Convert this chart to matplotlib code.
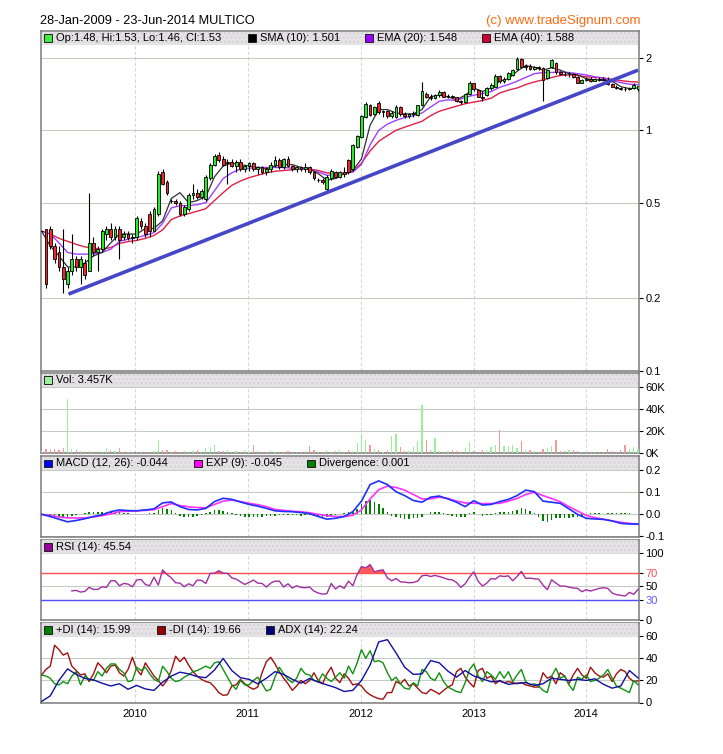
"""MULTICO weekly-style chart (price / volume / MACD / RSI / DMI), tradeSignum layout."""
import numpy as np
import pandas as pd
import matplotlib
matplotlib.use("Agg")
import matplotlib.pyplot as plt
import matplotlib.dates as mdates
from matplotlib.patches import Rectangle

W, H = 723, 754
plt.rcParams["font.family"] = ["Liberation Sans", "DejaVu Sans"]

TITLE = "28-Jan-2009 - 23-Jun-2014 MULTICO"
COPYRIGHT = "(c) www.tradeSignum.com"

# candles, one every two weeks from 2009-03-04
OPEN = [
    0.38, 0.39, 0.39, 0.33, 0.31, 0.27, 0.23, 0.26, 0.29, 0.27,
    0.28, 0.26, 0.34, 0.31, 0.32, 0.37, 0.39, 0.36, 0.39, 0.36,
    0.37, 0.355, 0.36, 0.42, 0.40, 0.45, 0.38, 0.45, 0.67, 0.61,
    0.51, 0.51, 0.50, 0.45, 0.47, 0.54, 0.55, 0.53, 0.52, 0.63,
    0.72, 0.79, 0.76, 0.73, 0.74, 0.71, 0.74, 0.69, 0.71, 0.73,
    0.69, 0.70, 0.67, 0.69, 0.72, 0.75, 0.70, 0.76, 0.71, 0.69,
    0.70, 0.69, 0.70, 0.67, 0.62, 0.62, 0.57, 0.63, 0.67, 0.64,
    0.67, 0.75, 0.69, 0.85, 0.94, 1.14, 1.27, 1.17, 1.30, 1.19,
    1.20, 1.15, 1.14, 1.25, 1.17, 1.15, 1.17, 1.16, 1.27, 1.42,
    1.38, 1.36, 1.40, 1.45, 1.38, 1.39, 1.37, 1.32, 1.31, 1.41,
    1.57, 1.47, 1.38, 1.40, 1.50, 1.52, 1.68, 1.60, 1.63, 1.70,
    1.80, 1.98, 1.84, 1.86, 1.80, 1.84, 1.81, 1.65, 1.83, 1.90,
    1.74, 1.72, 1.71, 1.72, 1.66, 1.58, 1.62, 1.64, 1.61, 1.63,
    1.62, 1.62, 1.56, 1.52, 1.50, 1.49, 1.48, 1.50, 1.48,
]
HIGH = [
    0.38, 0.39, 0.40, 0.34, 0.33, 0.39, 0.27, 0.37, 0.30, 0.30,
    0.29, 0.55, 0.36, 0.33, 0.39, 0.40, 0.41, 0.40, 0.40, 0.38,
    0.38, 0.37, 0.44, 0.43, 0.41, 0.46, 0.48, 0.68, 0.69, 0.62,
    0.52, 0.52, 0.51, 0.49, 0.55, 0.60, 0.57, 0.57, 0.65, 0.73,
    0.80, 0.81, 0.78, 0.76, 0.76, 0.75, 0.76, 0.72, 0.74, 0.74,
    0.71, 0.71, 0.70, 0.74, 0.78, 0.77, 0.77, 0.78, 0.72, 0.71,
    0.71, 0.73, 0.71, 0.68, 0.63, 0.63, 0.65, 0.69, 0.68, 0.68,
    0.70, 0.76, 0.88, 0.96, 1.16, 1.31, 1.29, 1.26, 1.33, 1.22,
    1.22, 1.20, 1.27, 1.26, 1.19, 1.18, 1.20, 1.28, 1.59, 1.44,
    1.41, 1.42, 1.47, 1.46, 1.41, 1.40, 1.38, 1.34, 1.42, 1.60,
    1.58, 1.48, 1.46, 1.52, 1.58, 1.71, 1.70, 1.66, 1.74, 1.80,
    2.02, 2.00, 1.89, 1.88, 1.86, 1.86, 1.83, 1.79, 1.98, 1.92,
    1.76, 1.75, 1.74, 1.73, 1.68, 1.64, 1.66, 1.66, 1.65, 1.67,
    1.66, 1.66, 1.58, 1.54, 1.52, 1.51, 1.52, 1.57, 1.53,
]
LOW = [
    0.38, 0.22, 0.32, 0.28, 0.26, 0.21, 0.22, 0.25, 0.26, 0.23,
    0.24, 0.26, 0.30, 0.26, 0.31, 0.35, 0.35, 0.35, 0.29, 0.35,
    0.35, 0.34, 0.35, 0.39, 0.36, 0.36, 0.38, 0.44, 0.59, 0.54,
    0.50, 0.49, 0.44, 0.44, 0.46, 0.52, 0.52, 0.52, 0.51, 0.62,
    0.71, 0.74, 0.71, 0.60, 0.70, 0.67, 0.68, 0.67, 0.68, 0.68,
    0.66, 0.66, 0.65, 0.67, 0.70, 0.69, 0.69, 0.70, 0.68, 0.67,
    0.68, 0.67, 0.66, 0.62, 0.61, 0.60, 0.56, 0.62, 0.63, 0.63,
    0.64, 0.66, 0.68, 0.84, 0.93, 1.12, 1.15, 1.16, 1.17, 1.14,
    1.13, 1.13, 1.13, 1.15, 1.12, 1.13, 1.14, 1.15, 1.26, 1.36,
    1.34, 1.35, 1.38, 1.37, 1.36, 1.36, 1.31, 1.29, 1.30, 1.40,
    1.46, 1.37, 1.33, 1.39, 1.47, 1.51, 1.58, 1.57, 1.62, 1.68,
    1.79, 1.82, 1.79, 1.78, 1.78, 1.79, 1.33, 1.64, 1.82, 1.72,
    1.70, 1.69, 1.67, 1.65, 1.57, 1.57, 1.60, 1.59, 1.60, 1.61,
    1.60, 1.55, 1.51, 1.48, 1.47, 1.46, 1.47, 1.49, 1.46,
]
CLOSE = [
    0.38, 0.23, 0.33, 0.29, 0.27, 0.24, 0.26, 0.29, 0.27, 0.29,
    0.25, 0.34, 0.31, 0.32, 0.38, 0.39, 0.36, 0.39, 0.35, 0.37,
    0.355, 0.36, 0.43, 0.40, 0.37, 0.38, 0.47, 0.66, 0.60, 0.55,
    0.51, 0.50, 0.45, 0.48, 0.54, 0.55, 0.53, 0.56, 0.64, 0.72,
    0.78, 0.75, 0.72, 0.74, 0.71, 0.74, 0.69, 0.71, 0.73, 0.69,
    0.70, 0.67, 0.69, 0.72, 0.75, 0.70, 0.76, 0.71, 0.69, 0.70,
    0.69, 0.70, 0.67, 0.63, 0.62, 0.61, 0.64, 0.68, 0.64, 0.67,
    0.66, 0.67, 0.87, 0.95, 1.15, 1.29, 1.16, 1.25, 1.19, 1.20,
    1.15, 1.18, 1.25, 1.17, 1.15, 1.17, 1.18, 1.27, 1.46, 1.38,
    1.36, 1.40, 1.45, 1.38, 1.39, 1.37, 1.32, 1.31, 1.41, 1.58,
    1.48, 1.38, 1.36, 1.50, 1.55, 1.69, 1.60, 1.64, 1.73, 1.78,
    1.98, 1.84, 1.86, 1.80, 1.84, 1.81, 1.62, 1.78, 1.96, 1.74,
    1.72, 1.71, 1.72, 1.67, 1.58, 1.62, 1.64, 1.61, 1.63, 1.62,
    1.64, 1.56, 1.52, 1.50, 1.49, 1.48, 1.50, 1.55, 1.53,
]
VOLUME_K = [
    2.0, 3.4, 2.5, 3.7, 3.0, 4.4, 49.5, 3.5, 2.5, 1.5,
    1.0, 1.5, 1.0, 1.5, 1.0, 4.5, 2.5, 1.5, 4.5, 1.0,
    1.0, 0.8, 1.0, 0.8, 1.0, 0.8, 1.5, 12.0, 2.5, 3.0,
    1.0, 1.5, 1.0, 1.5, 1.0, 1.5, 3.0, 1.0, 4.5, 5.0,
    7.4, 2.0, 1.5, 2.5, 1.0, 1.5, 1.0, 2.5, 1.0, 7.4,
    1.5, 1.0, 1.0, 1.5, 1.0, 0.8, 1.0, 1.5, 1.0, 0.8,
    1.0, 1.5, 6.0, 2.5, 1.0, 1.0, 2.5, 1.0, 1.5, 2.5,
    1.0, 3.0, 1.5, 9.0, 17.5, 12.0, 7.4, 4.0, 2.5, 1.0,
    2.5, 15.7, 17.5, 5.0, 1.5, 1.5, 5.0, 11.0, 44.0, 12.0,
    2.5, 13.5, 1.5, 1.0, 1.5, 3.0, 1.5, 1.0, 4.5, 10.4,
    1.5, 1.0, 2.5, 3.0, 5.0, 7.4, 20.6, 6.5, 6.5, 7.4,
    4.5, 11.0, 2.5, 3.0, 1.5, 1.0, 4.0, 4.5, 6.5, 12.0,
    2.0, 1.5, 3.0, 2.5, 1.5, 1.0, 0.8, 1.0, 1.2, 0.8,
    1.0, 4.0, 1.5, 1.0, 2.5, 7.4, 4.0, 5.0, 3.457,
]
DIVERGENCE = [
    0.0, -0.005, -0.008, -0.012, -0.014, -0.015, -0.012, -0.008, -0.004, 0.003,
    0.006, 0.01, 0.012, 0.011, 0.01, 0.012, 0.01, 0.008, 0.01, 0.006,
    0.004, 0.002, 0.001, 0.003, 0.002, 0.004, 0.008, 0.02, 0.027, 0.025,
    0.018, 0.005, -0.008, -0.01, -0.012, -0.01, -0.006, -0.002, 0.004, 0.012,
    0.018, 0.02, 0.016, 0.01, 0.004, -0.003, -0.008, -0.012, -0.013, -0.013,
    -0.012, -0.01, -0.009, -0.008, -0.006, -0.004, -0.003, -0.002, -0.004, -0.005,
    -0.006, -0.005, -0.004, -0.006, -0.009, -0.01, -0.01, -0.008, -0.004, 0.002,
    0.006, 0.009, 0.012, 0.025, 0.045, 0.06, 0.065, 0.058, 0.045, 0.03,
    0.01, -0.008, -0.014, -0.018, -0.02, -0.02, -0.018, -0.016, -0.012, 0.002,
    0.01, 0.012, 0.01, 0.006, -0.004, -0.008, -0.01, -0.012, -0.01, 0.004,
    0.012, 0.002, -0.006, -0.005, -0.002, 0.004, 0.01, 0.012, 0.012, 0.014,
    0.018, 0.028, 0.022, 0.014, 0.005, -0.012, -0.03, -0.034, -0.025, -0.018,
    -0.016, -0.015, -0.016, -0.014, -0.012, -0.006, 0.003, 0.005, 0.005, 0.004,
    0.002, 0.004, 0.005, 0.005, 0.005, 0.004, 0.004, 0.003, 0.001,
]
RSI = [
    None, None, None, None, None, None, None, 43.3, 44, 41.5,
    42.5, 48.5, 45.5, 45.5, 49.5, 48.5, 58.5, 58.5, 51, 54.5,
    53.5, 49.5, 59.6, 60.5, 53, 51, 64, 52, 75, 68,
    63, 55.5, 55, 49.5, 54, 51, 59.6, 59, 54.5, 69.7,
    70, 73.7, 70, 69.7, 63, 61, 57, 53, 56, 59.6,
    55, 54.5, 49, 55, 58, 58, 49, 54, 47.5, 51,
    48.5, 48, 49, 43, 40, 38.3, 39, 54.5, 46, 51,
    47, 58, 51, 68, 80, 78, 83, 72, 74, 75,
    63, 58.5, 62, 57, 56.5, 55.5, 56, 58, 66, 67,
    65, 66.6, 65, 63, 60.6, 60, 56, 48.5, 54, 64,
    72, 58, 50.5, 55, 62, 61, 66, 65, 66, 58.5,
    65, 72.7, 62, 62.5, 61.5, 61, 52, 45, 60, 55,
    50.5, 50.5, 49, 47.5, 47, 42, 45, 43, 45, 47,
    48, 47, 40, 37.5, 36.5, 35.5, 41, 38, 45.54,
]
PLUS_DI = [
    25, 24, 22, 17, 16, 19, 17, 24, 28, 16,
    24, 21, 20, 28, 24, 31, 35, 35, 30, 27,
    19, 20, 32, 29, 32, 26, 21, 19, 33, 28,
    22, 19, 20, 23, 25, 28, 29, 31, 33, 31,
    36, 37, 30, 23, 16, 12, 20, 16, 16, 20,
    23, 17, 10.5, 12, 23, 32, 26, 21, 18, 22,
    31, 26, 25, 20, 19, 26, 22, 19, 23, 27,
    22, 33, 26, 36, 48, 40, 47, 37, 38, 36,
    27, 20, 23, 17, 13, 12, 18, 15, 30, 28,
    22, 20, 27, 19, 14, 12, 10, 9, 18, 30,
    35, 24, 19, 28, 25, 21, 28, 22, 28, 19,
    25, 30, 19, 16, 17, 15, 11, 9, 24, 31,
    22, 24, 16, 11, 23, 21, 25, 19, 20, 22,
    25, 30, 22, 15, 13, 11, 9, 20, 15.99,
]
MINUS_DI = [
    25, 30, 33, 52, 48, 43, 45, 33, 29, 25,
    26, 19, 26, 36, 32, 27, 33, 34, 27, 24,
    30, 41, 30, 25, 36, 30, 24, 20, 15, 20,
    29, 42, 37, 41, 34, 28, 24, 21, 19, 18,
    14, 9, 6.5, 7, 15, 16, 21, 17, 14, 12,
    14, 27, 37, 41, 35, 28, 22, 17, 11, 15,
    20, 17, 20, 27, 20, 17, 26, 32, 22, 18,
    26, 22, 16, 17, 15, 10, 7, 5, 3.5, 3,
    9, 9, 19, 17, 21, 15, 17, 13, 9, 8,
    12, 10, 7.6, 11, 14, 16, 28, 31, 23, 18,
    14, 29, 31, 22, 24, 17, 20, 18, 19, 18,
    17, 18, 16, 15, 14, 14, 27, 22, 24, 17,
    27, 24, 17, 25, 31, 25, 22, 32, 27, 24,
    23, 26, 19, 26, 30, 28, 22, 19, 19.66,
]

# smoother series, one point every four weeks from 2009-03-04
SMA10 = [
    0.38, 0.33, 0.30, 0.27, 0.27, 0.28, 0.30, 0.31, 0.34, 0.37,
    0.37, 0.37, 0.39, 0.39, 0.42, 0.52, 0.55, 0.50, 0.51, 0.53,
    0.64, 0.71, 0.73, 0.72, 0.71, 0.70, 0.69, 0.71, 0.72, 0.72,
    0.70, 0.69, 0.66, 0.62, 0.63, 0.66, 0.68, 0.76, 1.05, 1.22,
    1.22, 1.18, 1.17, 1.17, 1.22, 1.38, 1.40, 1.38, 1.34, 1.40,
    1.50, 1.45, 1.50, 1.60, 1.64, 1.76, 1.86, 1.83, 1.78, 1.82,
    1.78, 1.72, 1.70, 1.64, 1.62, 1.62, 1.60, 1.52, 1.49, 1.501,
]
EMA20 = [
    0.38, 0.37, 0.34, 0.31, 0.305, 0.305, 0.306, 0.31, 0.32, 0.345,
    0.352, 0.358, 0.365, 0.375, 0.41, 0.475, 0.485, 0.486, 0.49, 0.50,
    0.56, 0.63, 0.665, 0.69, 0.695, 0.70, 0.70, 0.70, 0.70, 0.695,
    0.69, 0.69, 0.67, 0.65, 0.65, 0.66, 0.67, 0.72, 0.87, 1.0,
    1.06, 1.10, 1.13, 1.15, 1.18, 1.25, 1.32, 1.34, 1.33, 1.37,
    1.40, 1.42, 1.45, 1.51, 1.55, 1.60, 1.66, 1.72, 1.74, 1.74,
    1.75, 1.74, 1.72, 1.70, 1.67, 1.65, 1.61, 1.58, 1.555, 1.548,
]
EMA40 = [
    0.38, 0.37, 0.355, 0.345, 0.335, 0.327, 0.323, 0.32, 0.325, 0.338,
    0.344, 0.348, 0.355, 0.365, 0.385, 0.425, 0.44, 0.45, 0.46, 0.472,
    0.51, 0.55, 0.59, 0.615, 0.635, 0.65, 0.665, 0.675, 0.68, 0.685,
    0.69, 0.69, 0.68, 0.665, 0.66, 0.665, 0.672, 0.73, 0.82, 0.90,
    0.95, 1.00, 1.03, 1.06, 1.09, 1.15, 1.20, 1.23, 1.26, 1.29,
    1.31, 1.33, 1.36, 1.43, 1.47, 1.50, 1.55, 1.59, 1.62, 1.66,
    1.69, 1.70, 1.69, 1.67, 1.66, 1.65, 1.63, 1.61, 1.595, 1.588,
]
MACD = [
    0.0, -0.01, -0.022, -0.034, -0.028, -0.02, -0.01, -0.002, 0.012, 0.02,
    0.017, 0.016, 0.02, 0.025, 0.052, 0.056, 0.035, 0.022, 0.02, 0.027,
    0.058, 0.073, 0.068, 0.056, 0.045, 0.037, 0.027, 0.016, 0.013, 0.012,
    0.008, 0.003, -0.01, -0.022, -0.018, -0.01, 0.012, 0.06, 0.135, 0.152,
    0.135, 0.103, 0.085, 0.063, 0.055, 0.078, 0.083, 0.07, 0.055, 0.035,
    0.062, 0.042, 0.045, 0.058, 0.068, 0.085, 0.11, 0.103, 0.06, 0.055,
    0.05, 0.025, 0.0, -0.018, -0.021, -0.023, -0.03, -0.041, -0.044, -0.044,
]
SIGNAL = [
    0.0, -0.005, -0.012, -0.016, -0.017, -0.016, -0.012, -0.006, 0.002, 0.012,
    0.014, 0.016, 0.018, 0.021, 0.035, 0.049, 0.04, 0.034, 0.031, 0.03,
    0.045, 0.06, 0.065, 0.058, 0.05, 0.044, 0.035, 0.022, 0.018, 0.014,
    0.012, 0.007, 0.0, -0.006, -0.01, -0.01, -0.004, 0.02, 0.07, 0.112,
    0.128, 0.122, 0.11, 0.09, 0.07, 0.07, 0.078, 0.072, 0.06, 0.052,
    0.05, 0.049, 0.049, 0.05, 0.06, 0.072, 0.09, 0.10, 0.085, 0.072,
    0.057, 0.035, 0.015, -0.005, -0.015, -0.022, -0.03, -0.036, -0.041, -0.045,
]
ADX = [
    1, 6, 20, 30.5, 25.5, 21.8, 20.5, 17.5, 15, 17,
    12, 15.5, 12.3, 11, 18.5, 24, 27.5, 26, 23.5, 22.5,
    29.5, 40, 29, 22.5, 21, 17, 22, 28, 25.5, 21,
    17.5, 21.8, 18.5, 16, 13.5, 10, 11, 20, 34, 55,
    57, 45, 32, 25.5, 26, 38, 36, 28.5, 23, 29,
    24, 21.5, 18.8, 19.5, 16.5, 17.5, 18, 15.5, 17, 22,
    21, 20, 21, 20, 21.5, 16.5, 13, 15, 29, 22.24,
]

TREND_DATES = ["2009-05-30", "2014-06-18"]
TREND_PRICE = [0.208, 1.78]

BAR_DATES = pd.date_range("2009-03-04", periods=len(CLOSE), freq="14D")
LINE_DATES = pd.date_range("2009-03-04", periods=len(EMA20), freq="28D")
XLIM = (pd.Timestamp("2009-03-01"), pd.Timestamp("2014-06-22"))
LEFT_PX, RIGHT_PX = 40.7, 639.3


def fx(px):
    return px / W


def fy(py):
    return 1 - py / H


def panel(fig, top, bottom):
    ax = fig.add_axes([fx(LEFT_PX), fy(bottom), (RIGHT_PX - LEFT_PX) / W, (bottom - top) / H])
    ax.set_xlim(*XLIM)
    ax.yaxis.tick_right()
    ax.tick_params(axis="y", direction="out", length=3, width=0.8, labelsize=8, pad=1.5)
    ax.tick_params(axis="x", length=0, labelbottom=False)
    for s in ax.spines.values():
        s.set_color("#7a7a7a")
        s.set_linewidth(1.1)
    ax.xaxis.set_major_locator(mdates.YearLocator())
    ax.grid(axis="x", color="#d8d6d8", lw=0.8, ls=(0, (3, 2)))
    ax.grid(axis="y", color="#c4ccc4", lw=0.8)
    ax.set_axisbelow(True)
    return ax


def header(fig, top, items):
    fig.add_artist(Rectangle((fx(LEFT_PX + 0.8), fy(top + 14)), (RIGHT_PX - LEFT_PX - 1.6) / W, 13.3 / H,
                             transform=fig.transFigure, facecolor="#e5e3e5", edgecolor="#d4d2d4",
                             hatch="....", lw=0, zorder=2))
    for x, color, label in items:
        fig.add_artist(Rectangle((fx(x), fy(top + 11)), 7.5 / W, 7.5 / H, transform=fig.transFigure,
                                 facecolor=color, edgecolor="#202020", lw=0.7, zorder=3))
        fig.text(fx(x + 12), fy(top + 7.3), label, fontsize=8, va="center", ha="left", zorder=4)


def main():
    fig = plt.figure(figsize=(W / 100, H / 100), dpi=100)
    fig.text(fx(40), fy(21), TITLE, fontsize=9.2, va="center", ha="left")
    fig.text(fx(640), fy(21), COPYRIGHT, fontsize=9.5, va="center", ha="right", color="#ff6a10")

    o, h, l, c = (np.array(a) for a in (OPEN, HIGH, LOW, CLOSE))
    up = c >= o

    # price
    ax = panel(fig, 31, 370.5)
    ax.set_yscale("log")
    ax.set_ylim(0.1, 2.59)
    ax.set_yticks([0.1, 0.2, 0.5, 1, 2], labels=["0.1", "0.2", "0.5", "1", "2"])
    ax.yaxis.set_minor_locator(matplotlib.ticker.NullLocator())
    ax.plot(LINE_DATES, EMA40, color="#e0204a", lw=1.0, zorder=2)
    ax.plot(LINE_DATES, EMA20, color="#a040ff", lw=1.0, zorder=2)
    ax.plot(LINE_DATES, SMA10, color="#303030", lw=0.9, zorder=2)
    ax.vlines(BAR_DATES, l, h, color="black", lw=0.8, zorder=3)
    ax.bar(BAR_DATES, np.abs(c - o), bottom=np.minimum(o, c), width=9,
           color=np.where(up, "#2ae82a", "#f02828"), edgecolor="black", lw=0.6, zorder=4)
    ax.plot(pd.to_datetime(TREND_DATES), TREND_PRICE, color="#4646c8", lw=2.6,
            solid_capstyle="butt", zorder=5)
    header(fig, 31, [(44, "#40ee40", f"Op:{OPEN[-1]:.2f}, Hi:{HIGH[-1]:.2f}, Lo:{LOW[-1]:.2f}, Cl:{CLOSE[-1]:.2f}"),
                     (248, "#000000", f"SMA (10): {SMA10[-1]:.3f}"),
                     (365, "#9900ff", f"EMA (20): {EMA20[-1]:.3f}"),
                     (482, "#cc0033", f"EMA (40): {EMA40[-1]:.3f}")])

    # volume
    ax = panel(fig, 373, 453)
    ax.set_ylim(0, 72.7)
    ax.set_yticks([0, 20, 40, 60], labels=["0K", "20K", "40K", "60K"])
    ax.bar(BAR_DATES, VOLUME_K, width=4, color=np.where(up, "#98f098", "#f49898"), zorder=3)
    header(fig, 373, [(44, "#a0f0a0", f"Vol: {VOLUME_K[-1]:.3f}K")])

    # MACD
    ax = panel(fig, 456, 537)
    ax.set_ylim(-0.103, 0.265)
    ax.set_yticks([-0.1, 0.0, 0.1, 0.2], labels=["-0.1", "0.0", "0.1", "0.2"])
    ax.bar(BAR_DATES, DIVERGENCE, width=5, color="#008000", zorder=3)
    ax.plot(LINE_DATES, SIGNAL, color="#ff30ff", lw=1.2, zorder=4)
    ax.plot(LINE_DATES, MACD, color="#2030ff", lw=1.2, zorder=4)
    header(fig, 456, [(44, "#0000ff", f"MACD (12, 26): {MACD[-1]:.3f}"),
                      (194, "#ff00ff", f"EXP (9): {SIGNAL[-1]:.3f}"),
                      (307, "#008000", f"Divergence: {DIVERGENCE[-1]:.3f}")])

    # RSI
    rsi = np.array(RSI, dtype=float)
    ax = panel(fig, 539.5, 619.5)
    ax.set_ylim(0, 120.9)
    ax.set_yticks([0, 30, 50, 70, 100], labels=["0", "30", "50", "70", "100"])
    ax.get_yticklabels()[1].set_color("#6060ff")
    ax.get_yticklabels()[3].set_color("#ff5050")
    ax.fill_between(BAR_DATES, 70, rsi, where=rsi >= 70, interpolate=True, color="#ff5a5a", lw=0, zorder=2)
    ax.axhline(70, color="#ff5050", lw=1.0, zorder=3)
    ax.axhline(30, color="#5050ff", lw=1.0, zorder=3)
    ax.plot(BAR_DATES, rsi, color="#a030a0", lw=1.0, zorder=4)
    header(fig, 539.5, [(44, "#990099", f"RSI (14): {RSI[-1]:.2f}")])

    # DMI
    ax = panel(fig, 622.7, 702.5)
    ax.set_ylim(0, 72.4)
    ax.set_yticks([0, 20, 40, 60], labels=["0", "20", "40", "60"])
    ax.plot(BAR_DATES, MINUS_DI, color="#a01010", lw=1.0, zorder=3)
    ax.plot(BAR_DATES, PLUS_DI, color="#109010", lw=1.0, zorder=3)
    ax.plot(LINE_DATES, ADX, color="#1010a0", lw=1.0, zorder=3)
    ax.xaxis.set_major_formatter(mdates.DateFormatter("%Y"))
    ax.tick_params(axis="x", labelbottom=True, labelsize=8, pad=5)
    header(fig, 622.7, [(44, "#008000", f"+DI (14): {PLUS_DI[-1]:.2f}"),
                        (157, "#990000", f"-DI (14): {MINUS_DI[-1]:.2f}"),
                        (266, "#000080", f"ADX (14): {ADX[-1]:.2f}")])

    fig.savefig("out.png", dpi=100)
    plt.close(fig)


if __name__ == "__main__":
    main()
